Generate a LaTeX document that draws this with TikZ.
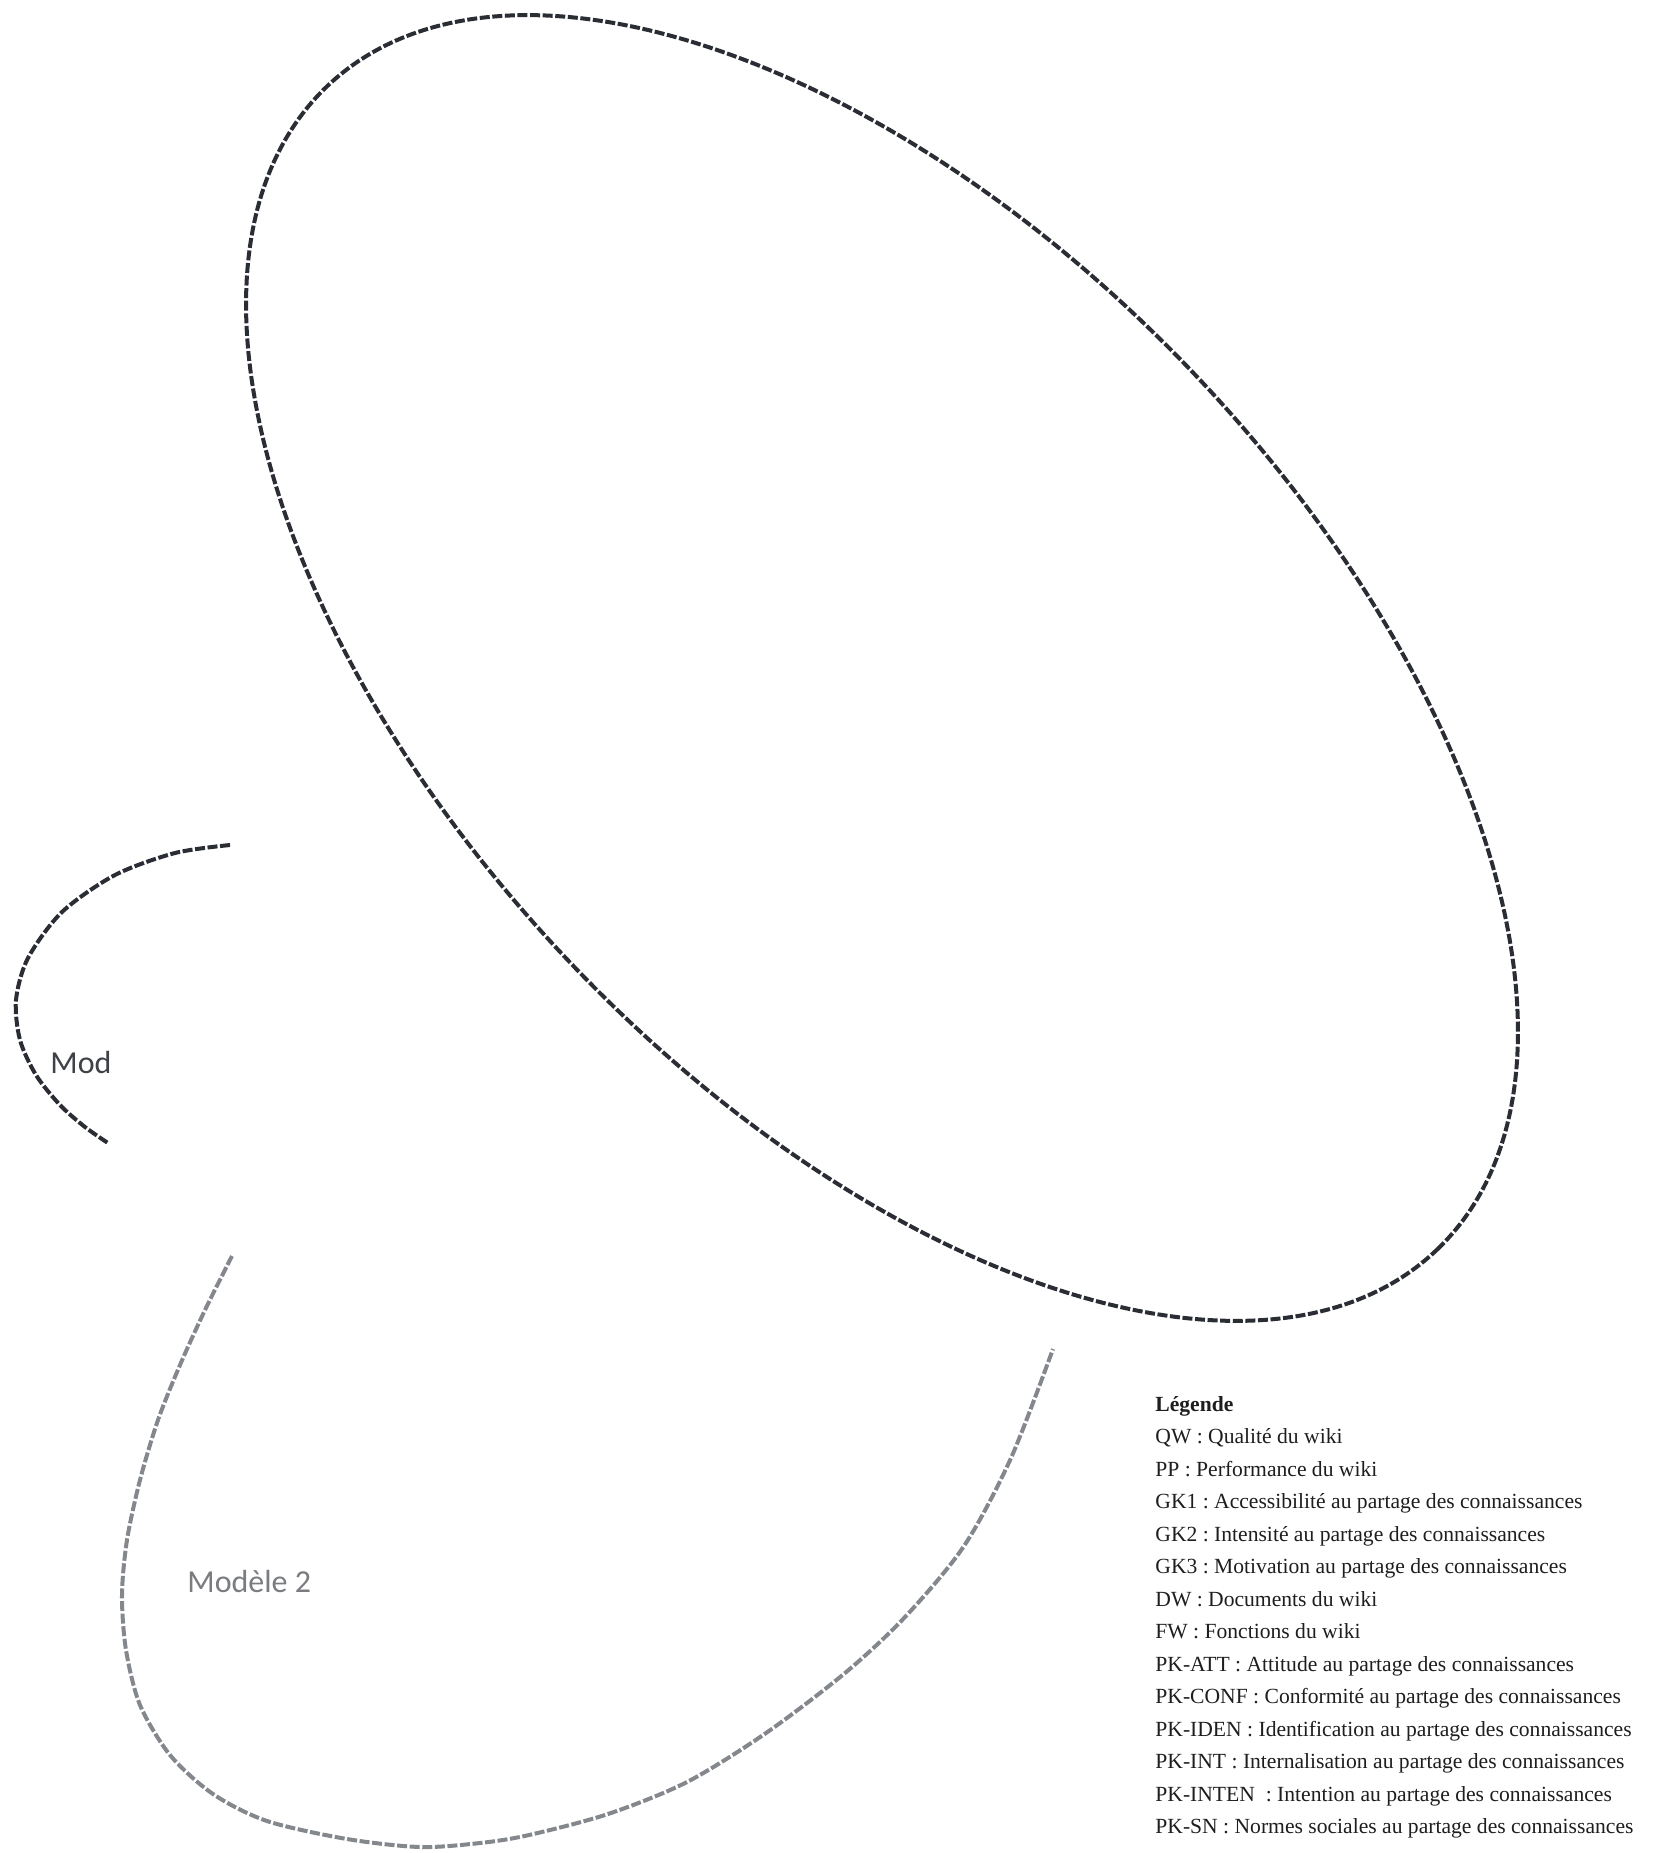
\documentclass[tikz,border=0pt]{standalone}
\usepackage{fontspec}
\setmainfont{Liberation Serif}
\newfontfamily\grpfont{Carlito}
\usetikzlibrary{positioning}
\definecolor{InkDark} {HTML}{2A2E34}
\definecolor{InkGray} {HTML}{84888D}
\definecolor{LabDark} {HTML}{3E4146}
\definecolor{LabGray} {HTML}{7A7C80}
\definecolor{LegInk}  {HTML}{1E1E1E}
\tikzset{
  grpline/.style={draw=#1,line width=2pt,dash pattern=on 5pt off 1.3pt},
  grplabel/.style={font=\grpfont\fontsize{16}{19}\selectfont,text=#1,
                   inner sep=0pt,anchor=base west},
  legtext/.style={font=\frenchspacing\fontsize{10.8}{16.25}\selectfont,
                  text=LegInk,align=left,inner sep=0pt,anchor=north west},
}

\begin{document}
\begin{tikzpicture}[x=0.5pt,y=-0.5pt]

  \fill[white] (0,0) rectangle (1666,1853);
  \useasboundingbox (0,0) rectangle (1666,1853);

  % large group
  \draw[grpline=InkDark,shift={(882,668)},rotate=-46.35]
    (0,0) ellipse [x radius=402pt,y radius=214.5pt];

  % group cut at the left edge
  \draw[grpline=InkDark] plot[smooth] coordinates {
    (230,845) (175,853) (115,875) (62,912) (28,958) (16,1000)
    (20,1040) (36,1075) (60,1105) (85,1127) (108,1143)};
  \node[grplabel=LabDark] (mod) at (50,1073) {Mod};

  % Modele 2
  \draw[grpline=InkGray] plot[smooth] coordinates {
    (232,1256) (205,1310) (180,1365) (158,1420) (140,1480) (127,1540)
    (122,1595) (126,1650) (140,1705) (170,1755) (213,1794) (267,1821)
    (347,1839) (420,1847) (480,1843) (529,1835) (608,1814) (687,1782)
    (766,1733) (845,1673) (905,1617) (964,1546) (1011,1458) (1053,1349)};
  \node[grplabel=LabGray] (modele2) at (187,1592) {Modèle 2};

  % legend
  \node[legtext] (legende) at (1155,1396) {\textbf{Légende}\\
    QW : Qualité du wiki\\
    PP : Performance du wiki\\
    GK1 : Accessibilité au partage des connaissances\\
    GK2 : Intensité au partage des connaissances\\
    GK3 : Motivation au partage des connaissances\\
    DW : Documents du wiki\\
    FW : Fonctions du wiki\\
    PK-ATT : Attitude au partage des connaissances\\
    PK-CONF : Conformité au partage des connaissances\\
    PK-IDEN : Identification au partage des connaissances\\
    PK-INT : Internalisation au partage des connaissances\\
    PK-INTEN~ : Intention au partage des connaissances\\
    PK-SN : Normes sociales au partage des connaissances};

\end{tikzpicture}
\end{document}
